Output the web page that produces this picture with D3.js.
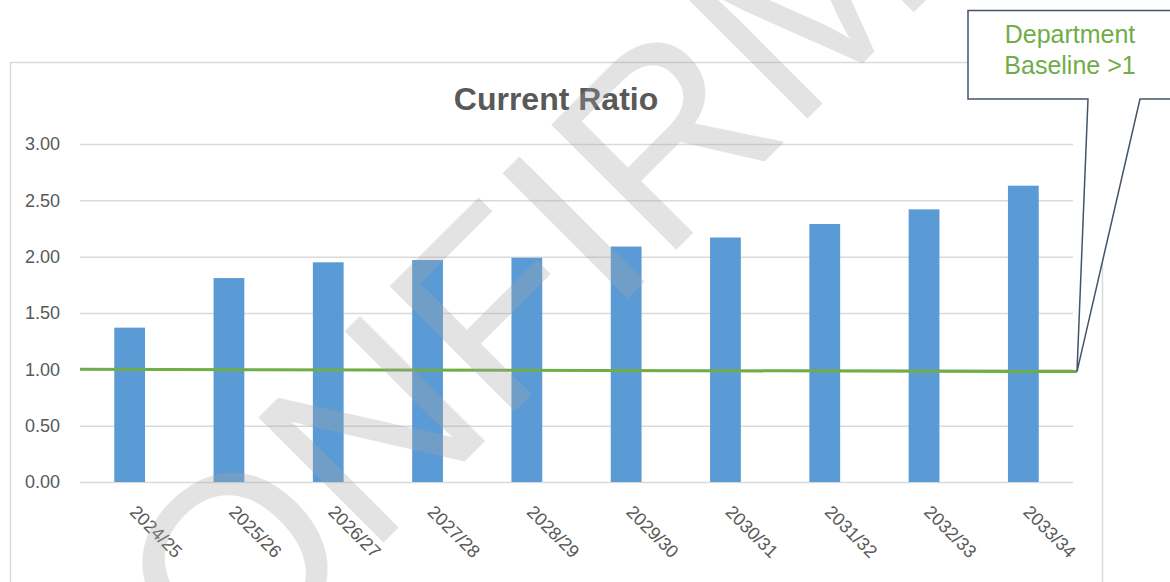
<!DOCTYPE html>
<html>
<head>
<meta charset="utf-8">
<script src="https://cdn.jsdelivr.net/npm/d3@7"></script>
<style>
  body { margin: 0; background: #fff; }
  svg { display: block; font-family: "Liberation Sans", Arial, sans-serif; }
</style>
</head>
<body>
<svg id="chart"></svg>
<script>
// chart data
const years = ["2024/25", "2025/26", "2026/27", "2027/28", "2028/29",
               "2029/30", "2030/31", "2031/32", "2032/33", "2033/34"];
const ratios = [1.37, 1.81, 1.95, 1.97, 1.99, 2.09, 2.17, 2.29, 2.42, 2.63];
const baseline = [1.00, 0.98];   // department baseline line, start / end
const yTicks = [0, 0.5, 1, 1.5, 2, 2.5, 3];
const titleText = "Current Ratio";
const calloutLines = ["Department", "Baseline >1"];
const watermark = "CONFIRMED";

const width = 1170, height = 582;
const margin = ({top: 144, right: 97, bottom: 100, left: 80});

const svg = d3.select("#chart")
    .attr("width", width)
    .attr("height", height)
    .attr("viewBox", [0, 0, width, height]);

// chart area border
svg.append("rect")
    .attr("x", 10.5)
    .attr("y", 62.5)
    .attr("width", 1092)
    .attr("height", 560)
    .attr("fill", "none")
    .attr("stroke", "#d9d9d9")
    .attr("stroke-width", 1.5);

const x = d3.scaleBand()
    .domain(years)
    .range([margin.left, width - margin.right])
    .paddingInner(0.69)
    .paddingOuter(0.345);

const y = d3.scaleLinear()
    .domain([0, 3])
    .range([height - margin.bottom, margin.top]);

svg.append("text")
    .attr("x", 556)
    .attr("y", 110)
    .attr("text-anchor", "middle")
    .attr("fill", "#595959")
    .style("font-size", "32px")
    .style("font-weight", "bold")
    .text(titleText);

// gridlines + y labels
const yAxis = g => g
    .attr("transform", `translate(${margin.left},0)`)
    .call(d3.axisLeft(y).tickValues(yTicks).tickFormat(d3.format(".2f"))
        .tickSize(-(width - margin.right - margin.left)).tickPadding(20))
    .call(g => g.select(".domain").remove())
    .call(g => g.selectAll("line").attr("stroke", "#d9d9d9").attr("stroke-width", 1.5))
    .call(g => g.selectAll("text")
        .attr("fill", "#595959")
        .style("font-size", "18px")
        .style("font-family", "'Liberation Sans', Arial, sans-serif"));

svg.append("g").call(yAxis);

// bars
svg.append("g")
    .attr("fill", "#5b9bd5")
    .selectAll("rect")
    .data(ratios)
    .join("rect")
    .attr("x", (d, i) => x(years[i]))
    .attr("y", d => y(d))
    .attr("width", x.bandwidth())
    .attr("height", d => y(0) - y(d));

// x labels, rotated
svg.append("g")
    .attr("fill", "#595959")
    .style("font-size", "18px")
    .selectAll("text")
    .data(years)
    .join("text")
    .attr("transform", d => `translate(${x(d) + x.bandwidth() / 2 - 1},${y(0) + 31}) rotate(45)`)
    .text(d => d);

// baseline line (runs a little past the plot, out to the callout tip)
const bx = d3.scaleLinear()
    .domain([0, baseline.length - 1])
    .range([margin.left, width - margin.right + 4]);

svg.append("path")
    .datum(baseline)
    .attr("fill", "none")
    .attr("stroke", "#70ad47")
    .attr("stroke-width", 3)
    .attr("d", d3.line().x((d, i) => bx(i)).y(d => y(d)));

// watermark
svg.append("text")
    .attr("transform", "translate(96,830) rotate(-45)")
    .attr("fill", "#a6a6a6")
    .attr("opacity", 0.3)
    .style("font-size", "257px")
    .text(watermark);

// callout pointing at the end of the baseline
const tipX = bx(baseline.length - 1), tipY = y(baseline[baseline.length - 1]);
svg.append("path")
    .attr("d", `M968,10.5 H1180 V99 H1140 L${tipX},${tipY} L1088,99 H968 Z`)
    .attr("fill", "#fff")
    .attr("stroke", "#44546a")
    .attr("stroke-width", 1.5);

svg.append("g")
    .attr("fill", "#70ad47")
    .style("font-size", "25px")
    .selectAll("text")
    .data(calloutLines)
    .join("text")
    .attr("x", 1070)
    .attr("y", (d, i) => 43 + i * 31)
    .attr("text-anchor", "middle")
    .text(d => d);
</script>
</body>
</html>
